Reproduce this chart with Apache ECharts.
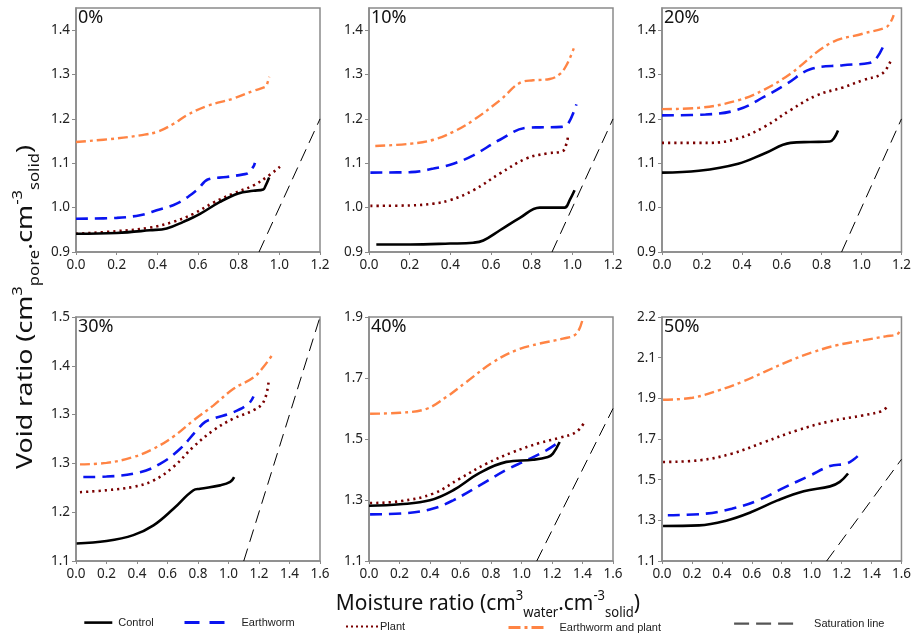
<!DOCTYPE html>
<html><head><meta charset="utf-8">
<script src="https://cdn.jsdelivr.net/npm/echarts@6/dist/echarts.min.js"></script>
<style>html,body{margin:0;padding:0;background:#fff}#c{width:914px;height:633px}</style>
</head><body><div id="c"></div>
<script>
// ---------- labels ----------
const panelLabels = ['0%', '10%', '20%', '30%', '40%', '50%'];
const seriesNames = ['Control', 'Earthworm', 'Plant', 'Earthworm and plant', 'Saturation line'];
const xTitleParts = ['Moisture ratio (cm', '3', 'water', '.cm', '-3', 'solid', ')'];
const yTitleParts = ['Void ratio (cm', '3', 'pore', '.cm', '-3', 'solid', ')'];

// ---------- tick values / labels ----------
const xTicksTop = [0, 0.2, 0.4, 0.6, 0.8, 1.0, 1.2];
const xLabelsTop = ['0.0', '0.2', '0.4', '0.6', '0.8', '1.0', '1.2'];
const xTicksBottom = [0, 0.2, 0.4, 0.6, 0.8, 1.0, 1.2, 1.4, 1.6];
const xLabelsBottom = ['0.0', '0.2', '0.4', '0.6', '0.8', '1.0', '1.2', '1.4', '1.6'];
const yTicksTop = [0.9, 1.0, 1.1, 1.2, 1.3, 1.4];
const yLabelsTop = ['0.9', '1.0', '1.1', '1.2', '1.3', '1.4'];
const yTicks30 = [1.1, 1.2, 1.3, 1.4, 1.5, 1.6];
const yLabels30 = ['1.1', '1.2', '1.3', '1.3', '1.4', '1.5'];
const yTicks40 = [1.1, 1.3, 1.5, 1.7, 1.9];
const yLabels40 = ['1.1', '1.3', '1.5', '1.7', '1.9'];
const yTicks50 = [1.1, 1.3, 1.5, 1.7, 1.9, 2.1, 2.3];
const yLabels50 = ['1.1', '1.3', '1.5', '1.7', '1.9', '2.1', '2.2'];

// ---------- data: [moisture ratio, void ratio] ----------
// 0 %
const ctrl0 = [[0,0.941],[0.2,0.943],[0.364,0.949],[0.446,0.953],[0.528,0.968],[0.61,0.986],[0.708,1.013],[0.798,1.032],[0.872,1.038],[0.921,1.041],[0.93,1.047],[0.95,1.068]];
const worm0 = [[0,0.975],[0.2,0.977],[0.315,0.983],[0.397,0.994],[0.495,1.009],[0.593,1.039],[0.651,1.064],[0.74,1.069],[0.823,1.075],[0.848,1.078],[0.872,1.092],[0.88,1.101]];
const plant0 = [[0,0.941],[0.2,0.947],[0.364,0.955],[0.479,0.968],[0.577,0.986],[0.675,1.011],[0.774,1.032],[0.872,1.05],[0.938,1.069],[1.003,1.092]];
const both0 = [[0,1.148],[0.2,1.156],[0.315,1.163],[0.4,1.171],[0.48,1.189],[0.544,1.208],[0.643,1.229],[0.774,1.246],[0.872,1.263],[0.93,1.272],[0.938,1.276],[0.95,1.295]];
// 10 %
const ctrl10 = [[0.036,0.917],[0.203,0.917],[0.399,0.919],[0.513,0.921],[0.562,0.926],[0.644,0.949],[0.742,0.977],[0.84,1.0],[0.962,1.0],[0.987,1.017],[1.011,1.039]];
const worm10 = [[0.007,1.079],[0.203,1.08],[0.317,1.088],[0.415,1.099],[0.513,1.118],[0.644,1.153],[0.775,1.18],[0.84,1.181],[0.946,1.182],[0.979,1.189],[1.02,1.233]];
const plant10 = [[0.007,1.004],[0.203,1.005],[0.317,1.009],[0.399,1.017],[0.513,1.039],[0.644,1.077],[0.775,1.111],[0.873,1.122],[0.954,1.128],[0.971,1.144],[0.979,1.161]];
const both10 = [[0.031,1.139],[0.203,1.144],[0.317,1.153],[0.415,1.171],[0.513,1.197],[0.644,1.242],[0.75,1.283],[0.807,1.287],[0.889,1.29],[0.938,1.301],[0.971,1.321],[1.007,1.359]];
// 20 %
const ctrl20 = [[0,1.079],[0.185,1.083],[0.382,1.099],[0.513,1.122],[0.644,1.146],[0.743,1.148],[0.841,1.149],[0.861,1.156],[0.882,1.174]];
const worm20 = [[0,1.208],[0.218,1.21],[0.382,1.221],[0.513,1.25],[0.628,1.28],[0.743,1.312],[0.907,1.321],[1.038,1.326],[1.07,1.334],[1.107,1.362]];
const plant20 = [[0,1.146],[0.234,1.146],[0.382,1.156],[0.513,1.182],[0.644,1.22],[0.775,1.253],[0.907,1.271],[1.005,1.287],[1.103,1.302],[1.144,1.329]];
const both20 = [[0,1.222],[0.185,1.225],[0.382,1.242],[0.513,1.266],[0.644,1.302],[0.841,1.37],[1.005,1.392],[1.12,1.406],[1.144,1.417],[1.161,1.434]];
// 30 %
const ctrl30 = [[0.004,1.136],[0.2,1.141],[0.376,1.153],[0.508,1.173],[0.639,1.207],[0.77,1.245],[0.814,1.248],[0.945,1.255],[1.011,1.262],[1.037,1.272]];
const worm30 = [[0.048,1.272],[0.2,1.273],[0.42,1.282],[0.551,1.299],[0.683,1.33],[0.792,1.368],[0.847,1.385],[0.902,1.392],[1.033,1.405],[1.131,1.422],[1.164,1.437]];
const plant30 = [[0.026,1.241],[0.2,1.245],[0.376,1.252],[0.508,1.265],[0.639,1.293],[0.77,1.334],[0.902,1.368],[1.033,1.392],[1.164,1.409],[1.23,1.426],[1.263,1.467]];
const both30 = [[0.026,1.298],[0.2,1.301],[0.376,1.313],[0.508,1.33],[0.639,1.355],[0.77,1.388],[0.902,1.419],[1.033,1.453],[1.164,1.476],[1.23,1.498],[1.284,1.521]];
// 40 %
const ctrl40 = [[0,1.281],[0.203,1.286],[0.399,1.299],[0.552,1.332],[0.726,1.389],[0.901,1.425],[1.075,1.432],[1.173,1.441],[1.206,1.452],[1.25,1.49]];
const worm40 = [[0.007,1.253],[0.246,1.257],[0.421,1.272],[0.552,1.299],[0.726,1.348],[0.901,1.399],[1.032,1.43],[1.163,1.463],[1.254,1.493]];
const plant40 = [[0.007,1.29],[0.203,1.296],[0.421,1.321],[0.595,1.37],[0.77,1.419],[0.944,1.457],[1.119,1.487],[1.25,1.504],[1.359,1.523],[1.42,1.561]];
const both40 = [[0.007,1.583],[0.203,1.586],[0.377,1.599],[0.508,1.638],[0.639,1.687],[0.814,1.752],[0.966,1.791],[1.119,1.813],[1.272,1.829],[1.359,1.845],[1.402,1.895]];
// 50 %
const ctrl50 = [[0.007,1.272],[0.247,1.275],[0.422,1.297],[0.597,1.341],[0.772,1.398],[0.947,1.443],[1.123,1.467],[1.188,1.489],[1.243,1.53]];
const worm50 = [[0.039,1.325],[0.291,1.333],[0.466,1.357],[0.641,1.398],[0.816,1.461],[0.991,1.521],[1.123,1.567],[1.232,1.579],[1.287,1.603],[1.324,1.628]];
const plant50 = [[0.007,1.587],[0.247,1.595],[0.466,1.628],[0.685,1.685],[0.904,1.743],[1.123,1.787],[1.341,1.816],[1.473,1.838],[1.505,1.861]];
const both50 = [[0.007,1.893],[0.204,1.903],[0.379,1.939],[0.532,1.98],[0.685,2.03],[0.86,2.087],[1.013,2.128],[1.166,2.161],[1.341,2.185],[1.495,2.205],[1.571,2.215],[1.593,2.238]];
// saturation line (void ratio = moisture ratio)
const satTop = [[0.9, 0.9], [1.2, 1.2]];
const satBottom = [[1.1, 1.1], [1.6, 1.6]];

// ---------- build ----------
const FONT = 'Noto Sans';
const AX = '#8a8a8a';
const panelData = [
  [ctrl0, worm0, plant0, both0, satTop],
  [ctrl10, worm10, plant10, both10, satTop],
  [ctrl20, worm20, plant20, both20, satTop],
  [ctrl30, worm30, plant30, both30, satBottom],
  [ctrl40, worm40, plant40, both40, satBottom],
  [ctrl50, worm50, plant50, both50, satBottom]
];
const panelY = [
  [yTicksTop, yLabelsTop, 0.9, 1.45],
  [yTicksTop, yLabelsTop, 0.9, 1.45],
  [yTicksTop, yLabelsTop, 0.9, 1.45],
  [yTicks30, yLabels30, 1.1, 1.6],
  [yTicks40, yLabels40, 1.1, 1.9],
  [yTicks50, yLabels50, 1.1, 2.3]
];
const gridLefts = [76, 369, 662];
const gridTops = [8, 317];
const styles = [
  {color: '#000000', width: 2.6, type: 'solid'},
  {color: '#0a14f0', width: 2.6, type: [12, 7]},
  {color: '#7a0000', width: 2.6, type: [2.2, 4]},
  {color: '#ff8444', width: 2.4, type: [10, 4, 3, 4]},
  {color: '#000000', width: 1, type: [13, 7]}
];
function fmt(ticks, labels) {
  return function (v) {
    const i = ticks.findIndex(t => Math.abs(t - v) < 1e-6);
    return i >= 0 ? labels[i] : '';
  };
}
const grid = [], xAxis = [], yAxis = [], series = [], title = [];
for (let p = 0; p < 6; p++) {
  const row = p < 3 ? 0 : 1, col = p % 3;
  grid.push({left: gridLefts[col], top: gridTops[row], width: 244, height: 244,
    show: true, borderColor: AX, borderWidth: 1.5, backgroundColor: 'transparent'});
  const xt = row === 0 ? xTicksTop : xTicksBottom;
  const xl = row === 0 ? xLabelsTop : xLabelsBottom;
  xAxis.push({type: 'value', gridIndex: p, min: 0, max: xt[xt.length - 1],
    axisLine: {show: true, onZero: false, lineStyle: {color: AX, width: 1.5}},
    axisTick: {show: true, length: 3, customValues: xt, lineStyle: {color: AX}},
    axisLabel: {customValues: xt, formatter: fmt(xt, xl), color: '#222', fontSize: 13.5, fontFamily: FONT, margin: 6},
    splitLine: {show: false}});
  const [yt, yl, ymin, ymax] = panelY[p];
  yAxis.push({type: 'value', gridIndex: p, min: ymin, max: ymax,
    axisLine: {show: true, onZero: false, lineStyle: {color: AX, width: 1.5}},
    axisTick: {show: true, length: 4, customValues: yt, lineStyle: {color: AX}},
    axisLabel: {customValues: yt, formatter: fmt(yt, yl), color: '#222', fontSize: 13.5, fontFamily: FONT, margin: 6},
    splitLine: {show: false}});
  title.push({text: panelLabels[p], left: gridLefts[col] + 2, top: gridTops[row] + 1, padding: 0,
    textStyle: {fontSize: 18, fontWeight: 'normal', color: '#111', fontFamily: FONT}});
  panelData[p].forEach((d, s) => {
    series.push({name: seriesNames[s], type: 'line', xAxisIndex: p, yAxisIndex: p,
      data: d, symbol: 'none', smooth: s === 4 ? false : 0.4,
      lineStyle: Object.assign({cap: 'butt'}, styles[s]), color: styles[s].color,
      z: 10 - s, silent: true, animation: false});
  });
}
// legend placement: [left, icon width, text gap, top]
const legendPos = [[83, 28, 6, 617], [183, 40, 17, 617], [345, 32, 2, 621], [507, 38, 13, 622], [733, 59, 21, 618]];
const legendLine = [
  {color: '#000', width: 2.6, type: 'solid'},
  {color: '#0a14f0', width: 3, type: [15, 10]},
  {color: '#7a0000', width: 2, type: [2, 3]},
  {color: '#ff8444', width: 3, type: [12, 4, 3, 4]},
  {color: '#555', width: 2.2, type: [15, 7]}
];
const legend = seriesNames.map((n, i) => ({
  data: [n], left: legendPos[i][0], top: legendPos[i][3], itemWidth: legendPos[i][1], itemHeight: 14, itemGap: 0,
  selectedMode: false, padding: 0,
  itemStyle: {color: 'rgba(0,0,0,0)', borderColor: 'rgba(0,0,0,0)', borderWidth: 0, opacity: 0},
  lineStyle: legendLine[i],
  textStyle: {fontSize: 11, fontFamily: 'Liberation Sans', color: '#222', padding: [0, 0, 0, legendPos[i][2] - 5]}
}));
function rich(parts, size) {
  return {
    text: '{a|' + parts[0] + '}{sup|' + parts[1] + '}{sub|' + parts[2] + '}{a|' + parts[3] + '}{sup|' + parts[4] + '}{sub|' + parts[5] + '}{a|' + parts[6] + '}',
    rich: {
      a: {fontSize: size, fontFamily: FONT, fill: '#111', lineHeight: 32, verticalAlign: 'middle'},
      sup: {fontSize: 14, fontFamily: FONT, fill: '#111', lineHeight: 14, verticalAlign: 'top', padding: [1, 0, 0, 0]},
      sub: {fontSize: 14, fontFamily: FONT, fill: '#111', lineHeight: 14, verticalAlign: 'bottom'}
    },
    align: 'center', verticalAlign: 'middle'
  };
}
const graphic = [
  {type: 'text', x: 488, y: 604, scaleX: 0.93, style: rich(xTitleParts, 22.5), silent: true},
  {type: 'text', x: 26, y: 307, scaleX: 1.19, rotation: Math.PI / 2, style: rich(yTitleParts, 22.5), silent: true}
];
const chart = echarts.init(document.getElementById('c'), null, {renderer: 'canvas'});
chart.setOption({animation: false, backgroundColor: '#fff', grid, xAxis, yAxis, series, title, legend, graphic});
</script></body></html>
